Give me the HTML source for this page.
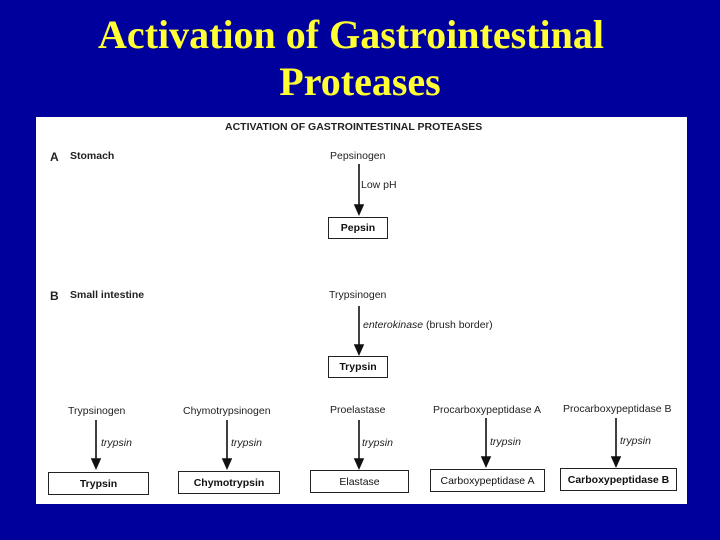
<!DOCTYPE html>
<html><head><style>
body{margin:0;width:720px;height:540px;background:#00009c;position:relative;overflow:hidden;font-family:"Liberation Sans",sans-serif}
.t{position:absolute;color:#ffff33;font-family:"Liberation Serif",serif;font-weight:bold;font-size:40px;text-align:center;left:0;width:720px;line-height:44px}
.p{position:absolute;left:36px;top:117px;width:651px;height:387px;background:#fff}
.x{position:absolute;font-size:10.5px;color:#222;white-space:nowrap}
.b{position:absolute;border:1.5px solid #222;font-size:10.5px;font-weight:bold;display:flex;align-items:center;justify-content:center;box-sizing:border-box;color:#111}
</style></head><body>
<div class="t" style="top:13px;left:-9px">Activation of Gastrointestinal</div>
<div class="t" style="top:60px">Proteases</div>
<div class="p"></div>
<svg style="position:absolute;left:0;top:0" width="720" height="540">
<g stroke="#111" stroke-width="1.6">
<line x1="359" y1="164" x2="359" y2="206"/><path d="M355,205 L363,205 L359,214z" fill="#111"/>
<line x1="359" y1="306" x2="359" y2="346"/><path d="M355,345 L363,345 L359,354z" fill="#111"/>
<line x1="96" y1="420" x2="96" y2="460"/><path d="M92,459 L100,459 L96,468z" fill="#111"/>
<line x1="227" y1="420" x2="227" y2="460"/><path d="M223,459 L231,459 L227,468z" fill="#111"/>
<line x1="359" y1="420" x2="359" y2="460"/><path d="M355,459 L363,459 L359,468z" fill="#111"/>
<line x1="486" y1="418" x2="486" y2="458"/><path d="M482,457 L490,457 L486,466z" fill="#111"/>
<line x1="616" y1="418" x2="616" y2="458"/><path d="M612,457 L620,457 L616,466z" fill="#111"/>
</g></svg>
<div class="x" style="left:225px;top:121px;font-weight:bold">ACTIVATION OF GASTROINTESTINAL PROTEASES</div>
<div class="x" style="left:50px;top:150px;font-weight:bold;font-size:12px">A</div>
<div class="x" style="left:70px;top:150px;font-weight:bold">Stomach</div>
<div class="x" style="left:330px;top:150px">Pepsinogen</div>
<div class="x" style="left:361px;top:179px">Low pH</div>
<div class="b" style="left:328px;top:217px;width:60px;height:22px">Pepsin</div>
<div class="x" style="left:50px;top:289px;font-weight:bold;font-size:12px">B</div>
<div class="x" style="left:70px;top:289px;font-weight:bold">Small intestine</div>
<div class="x" style="left:329px;top:289px">Trypsinogen</div>
<div class="x" style="left:363px;top:319px"><i>enterokinase</i> (brush border)</div>
<div class="b" style="left:328px;top:356px;width:60px;height:22px">Trypsin</div>
<div class="x" style="left:68px;top:405px">Trypsinogen</div>
<div class="x" style="left:183px;top:405px">Chymotrypsinogen</div>
<div class="x" style="left:330px;top:404px">Proelastase</div>
<div class="x" style="left:433px;top:404px">Procarboxypeptidase A</div>
<div class="x" style="left:563px;top:403px">Procarboxypeptidase B</div>
<div class="x" style="left:101px;top:437px"><i>trypsin</i></div>
<div class="x" style="left:231px;top:437px"><i>trypsin</i></div>
<div class="x" style="left:362px;top:437px"><i>trypsin</i></div>
<div class="x" style="left:490px;top:436px"><i>trypsin</i></div>
<div class="x" style="left:620px;top:435px"><i>trypsin</i></div>
<div class="b" style="left:48px;top:472px;width:101px;height:23px">Trypsin</div>
<div class="b" style="left:178px;top:471px;width:102px;height:23px">Chymotrypsin</div>
<div class="b" style="left:310px;top:470px;width:99px;height:23px;font-weight:normal">Elastase</div>
<div class="b" style="left:430px;top:469px;width:115px;height:23px;font-weight:normal">Carboxypeptidase A</div>
<div class="b" style="left:560px;top:468px;width:117px;height:23px">Carboxypeptidase B</div>
</body></html>
